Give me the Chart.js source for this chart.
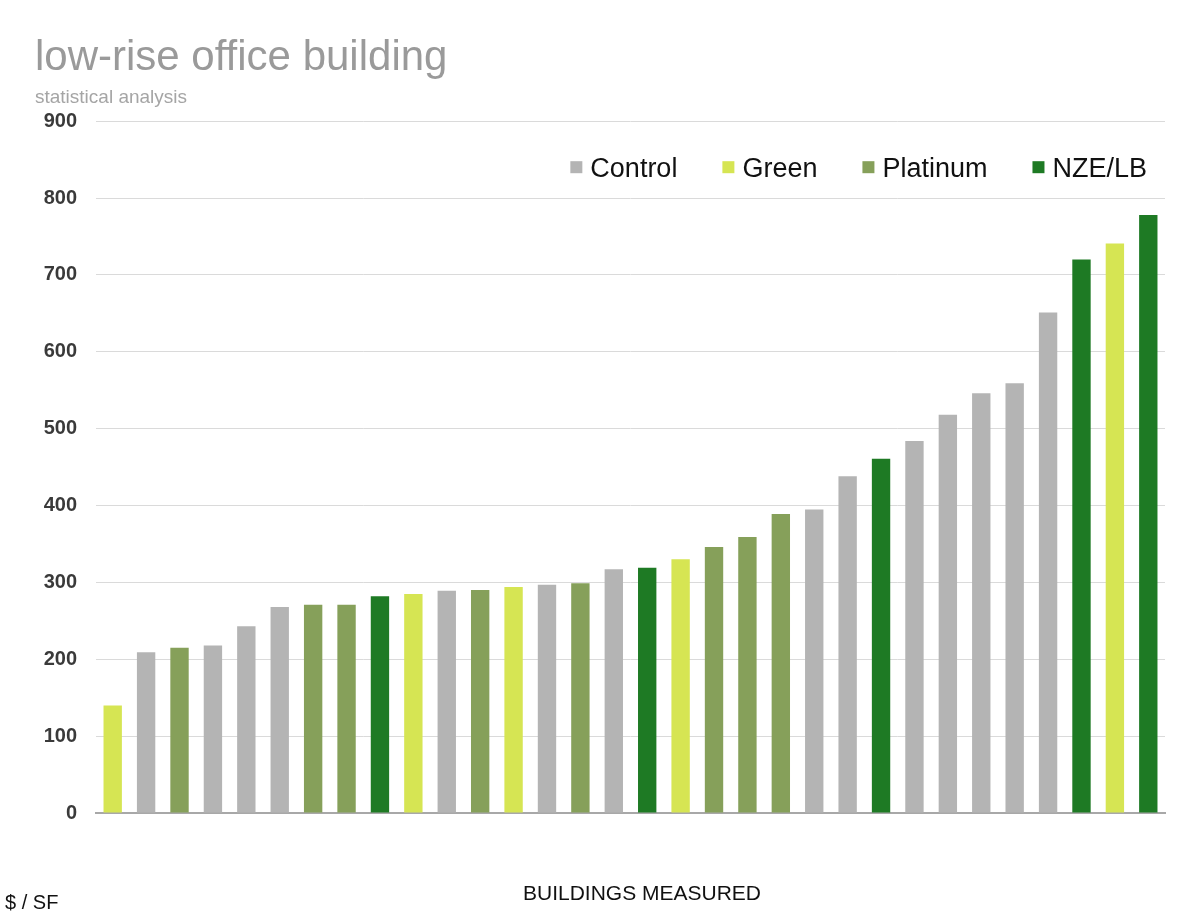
<!DOCTYPE html>
<html>
<head>
<meta charset="utf-8">
<script src="https://cdn.jsdelivr.net/npm/chart.js@4.4.0/dist/chart.umd.min.js"></script>
<style>
  html, body { margin: 0; padding: 0; background: #fff; }
  canvas { display: block; }
</style>
</head>
<body>
<canvas id="costChart" width="1200" height="921"></canvas>
<script>
// 건물별 $/SF 값 (정렬된 순서)
const buildings = ['1', '2', '3', '4', '5', '6', '7', '8', '9', '10', '11', '12', '13', '14', '15', '16',
                   '17', '18', '19', '20', '21', '22', '23', '24', '25', '26', '27', '28', '29', '30', '31', '32'];
const costs = [140, 209, 215, 218, 243, 268, 271, 271, 282, 285, 289, 290, 294, 297, 299, 317,
               319, 330, 346, 359, 389, 395, 438, 461, 484, 518, 546, 559, 651, 720, 741, 778];
const buildingTypes = ['Green', 'Control', 'Platinum', 'Control', 'Control', 'Control', 'Platinum', 'Platinum',
                       'NZE/LB', 'Green', 'Control', 'Platinum', 'Green', 'Control', 'Platinum', 'Control',
                       'NZE/LB', 'Green', 'Platinum', 'Platinum', 'Platinum', 'Control', 'Control', 'NZE/LB',
                       'Control', 'Control', 'Control', 'Control', 'Control', 'NZE/LB', 'Green', 'NZE/LB'];
const seriesNames = ['Control', 'Green', 'Platinum', 'NZE/LB'];
const seriesColors = ['#b4b4b4', '#d6e553', '#86a05a', '#1e7a24'];
const yTicks = [0, 100, 200, 300, 400, 500, 600, 700, 800, 900];

const FONT = "'Liberation Sans', Arial, sans-serif";

// 시리즈별 데이터셋 (해당 유형이 아니면 null)
const datasets = seriesNames.map((name, i) => ({
    label: name,
    data: costs.map((v, j) => buildingTypes[j] === name ? v : null),
    backgroundColor: seriesColors[i],
    borderWidth: 0,
    barPercentage: 0.55,
    categoryPercentage: 1.0
}));

// 범례 + 하단 텍스트 그리기
const extrasPlugin = {
    id: 'extras',
    afterDraw: chart => {
        const ctx = chart.ctx;
        const area = chart.chartArea;
        ctx.save();

        // 범례 (오른쪽 정렬)
        ctx.font = '27px ' + FONT;
        ctx.textBaseline = 'middle';
        ctx.textAlign = 'left';
        const boxSize = 12, boxGap = 8, itemGap = 45;
        const widths = seriesNames.map(n => ctx.measureText(n).width);
        let total = 0;
        widths.forEach((w, i) => { total += boxSize + boxGap + w + (i > 0 ? itemGap : 0); });
        let x = area.right - 18 - total;
        const y = area.top + 48;
        seriesNames.forEach((name, i) => {
            ctx.fillStyle = seriesColors[i];
            ctx.fillRect(x, y - 8, boxSize, boxSize);
            x += boxSize + boxGap;
            ctx.fillStyle = '#111';
            ctx.fillText(name, x, y);
            x += widths[i] + itemGap;
        });

        // 하단 라벨
        ctx.font = '21px ' + FONT;
        ctx.fillStyle = '#111';
        ctx.textAlign = 'center';
        ctx.fillText('BUILDINGS MEASURED', area.left + 546, 894);
        ctx.font = '20px ' + FONT;
        ctx.textAlign = 'left';
        ctx.fillText('$ / SF', 5, 903);
        ctx.restore();
    }
};

const ctx = document.getElementById('costChart').getContext('2d');
new Chart(ctx, {
    type: 'bar',
    data: {
        labels: buildings,
        datasets: datasets
    },
    options: {
        responsive: false,
        animation: false,
        layout: {
            padding: { left: 35, right: 35, top: 0, bottom: 108 }
        },
        plugins: {
            legend: { display: false },
            tooltip: { enabled: false },
            title: {
                display: true,
                text: 'low-rise office building',
                align: 'start',
                color: '#9a9a9a',
                font: { family: FONT, size: 42, weight: 'normal', lineHeight: 1.2 },
                padding: { top: 33, bottom: 0 }
            },
            subtitle: {
                display: true,
                text: 'statistical analysis',
                align: 'start',
                color: '#a5a5a5',
                font: { family: FONT, size: 19, weight: 'normal', lineHeight: 1.2 },
                padding: { top: 3, bottom: 12 }
            }
        },
        scales: {
            x: {
                stacked: true,
                grid: { display: false, drawTicks: false },
                border: { display: true, color: '#a8a8a8', width: 2 },
                ticks: { display: false }
            },
            y: {
                stacked: true,
                min: 0,
                max: 900,
                afterFit: scale => { scale.width = 61; },
                afterBuildTicks: scale => { scale.ticks = yTicks.map(v => ({ value: v })); },
                grid: { color: '#dadada', lineWidth: 1, drawTicks: false },
                border: { display: false },
                ticks: {
                    padding: 19,
                    color: '#3a3a3a',
                    font: { family: FONT, size: 20, weight: 'bold' }
                }
            }
        }
    },
    plugins: [extrasPlugin]
});
</script>
</body>
</html>
